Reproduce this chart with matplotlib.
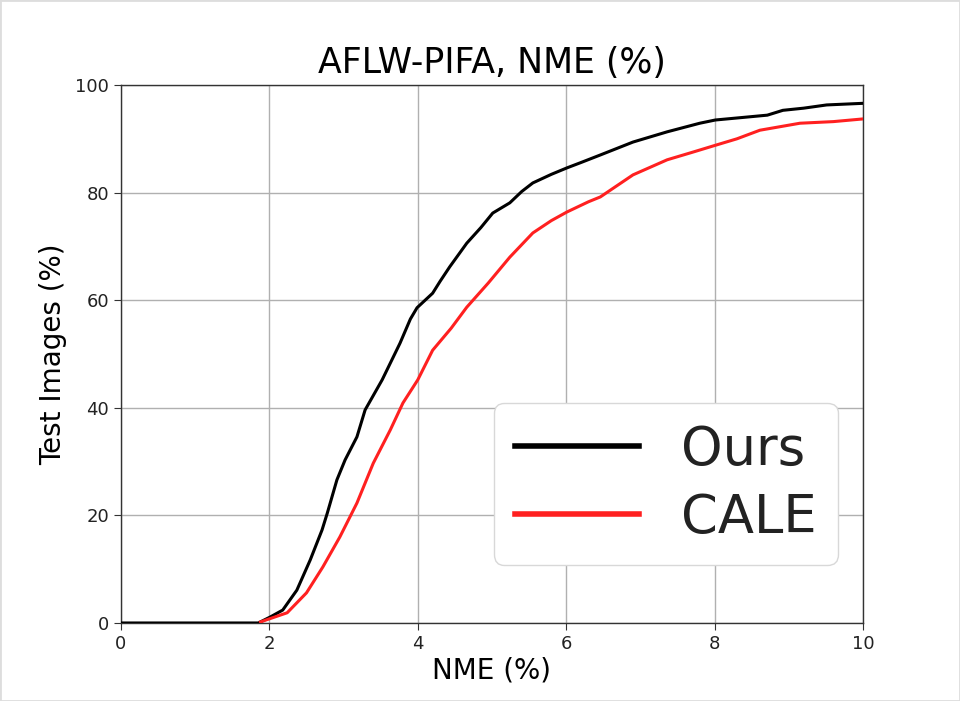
import matplotlib
matplotlib.use("Agg")
import matplotlib.pyplot as plt
from matplotlib.patches import Rectangle

ours_x = [0.0, 1.85, 2.01, 2.18, 2.37, 2.55, 2.71, 2.78, 2.91, 3.02, 3.18, 3.29, 3.52,
          3.76, 3.9, 3.99, 4.2, 4.3, 4.43, 4.66, 4.85, 5.01, 5.24, 5.4, 5.55, 5.8, 6.01,
          6.2, 6.46, 6.9, 7.36, 7.8, 8.01, 8.4, 8.71, 8.92, 9.2, 9.51, 10.0]
ours_y = [0.0, 0.0, 1.1, 2.4, 6.1, 11.7, 17.3, 20.4, 26.6, 30.3, 34.6, 39.6, 45.2,
          52.0, 56.5, 58.6, 61.3, 63.5, 66.2, 70.6, 73.5, 76.2, 78.1, 80.2, 81.8, 83.4, 84.6,
          85.6, 87.0, 89.4, 91.3, 92.9, 93.5, 94.0, 94.4, 95.3, 95.7, 96.3, 96.6]

cale_x = [1.88, 2.24, 2.5, 2.72, 2.95, 3.18, 3.4, 3.63, 3.8, 4.0, 4.2, 4.45, 4.66, 4.95,
          5.24, 5.55, 5.8, 6.01, 6.3, 6.46, 6.9, 7.36, 7.7, 8.01, 8.3, 8.61, 9.15, 9.6, 10.0]
cale_y = [0.2, 1.9, 5.6, 10.4, 16.0, 22.3, 29.7, 35.9, 40.9, 45.2, 50.7, 54.8, 58.7, 63.2,
          68.0, 72.5, 74.8, 76.4, 78.3, 79.2, 83.3, 86.1, 87.5, 88.8, 90.0, 91.6, 92.9, 93.2, 93.7]

series_labels = ["Ours", "CALE"]
title = "AFLW-PIFA, NME (%)"
xlabel = "NME (%)"
ylabel = "Test Images (%)"
xticks = [0, 2, 4, 6, 8, 10]
yticks = [0, 20, 40, 60, 80, 100]

fig = plt.figure(figsize=(9.6, 7.01), dpi=100)
ax = fig.add_axes([0.126, 0.1113, 0.773, 0.7674])

ax.plot(ours_x, ours_y, color="black", lw=2.2, label=series_labels[0], zorder=3)
ax.plot(cale_x, cale_y, color="#ff2020", lw=2.2, label=series_labels[1], zorder=3)

ax.set_xlim(0, 10)
ax.set_ylim(0, 100)
ax.set_xticks(xticks)
ax.set_yticks(yticks)
ax.tick_params(labelsize=13, length=5, color="#333333", labelcolor="#222222")
ax.grid(True, color="#b0b0b0", lw=1.0)
ax.set_axisbelow(True)
for s in ax.spines.values():
    s.set_color("#333333")
    s.set_linewidth(1.0)

ax.set_title(title, fontsize=25, pad=9)
ax.set_xlabel(xlabel, fontsize=20, labelpad=3)
ax.set_ylabel(ylabel, fontsize=20, labelpad=6)

leg = ax.legend(loc="lower right", bbox_to_anchor=(0.966, 0.108), borderaxespad=0,
                fontsize=38, handlelength=2.35, handletextpad=0.8,
                framealpha=1.0, edgecolor="#d8d8d8", borderpad=0.4, labelspacing=0.3)
for h in leg.get_lines():
    h.set_linewidth(4.0)
for t in leg.get_texts():
    t.set_color("#222222")

fig.patches.append(Rectangle((0, 0), 1, 1, transform=fig.transFigure,
                             fill=False, edgecolor="#dddddd", lw=2))

fig.savefig("out.png", dpi=100)
